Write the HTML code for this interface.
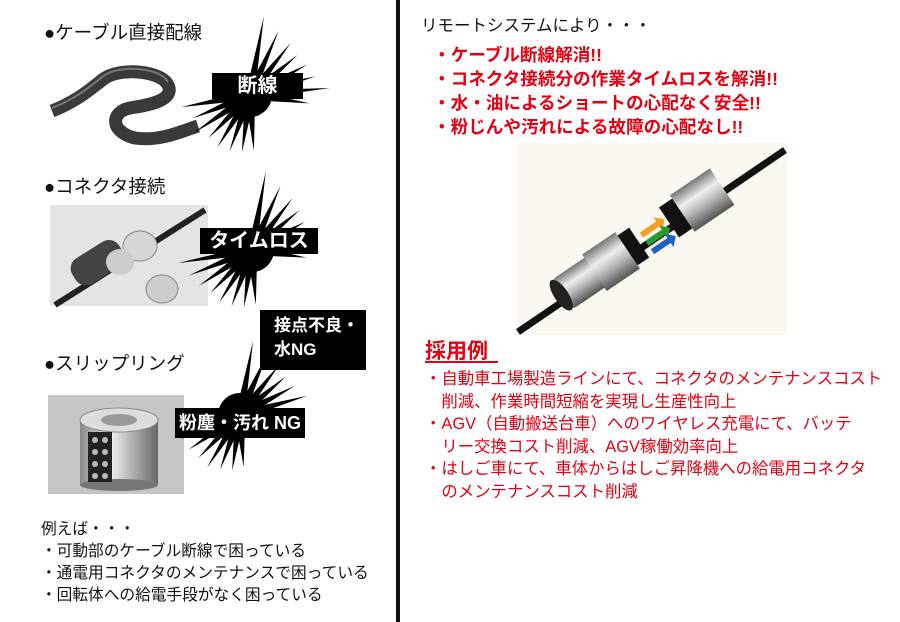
<!DOCTYPE html>
<html><head><meta charset="utf-8"><style>
body{margin:0;width:900px;height:622px;background:#fff;position:relative;overflow:hidden;font-family:"Liberation Sans","Noto Sans CJK JP",sans-serif}
.t{position:absolute;white-space:nowrap;line-height:1}
.h{font-size:18.5px;color:#111}
.lab{position:absolute;background:#000;color:#fff;font-weight:bold;white-space:nowrap;text-align:center}
.r{color:#e60012;font-weight:bold;font-size:17.6px}
.rl{color:#e60012;font-size:16.4px}
</style></head><body>
<svg width="900" height="622" style="position:absolute;left:0;top:0">
<defs>
<linearGradient id="met" x1="0" y1="0" x2="0" y2="1"><stop offset="0" stop-color="#777"/><stop offset="0.35" stop-color="#eee"/><stop offset="0.6" stop-color="#bbb"/><stop offset="1" stop-color="#555"/></linearGradient>
<linearGradient id="cyl" x1="0" y1="0" x2="1" y2="0"><stop offset="0" stop-color="#888"/><stop offset="0.4" stop-color="#eee"/><stop offset="0.7" stop-color="#aaa"/><stop offset="1" stop-color="#666"/></linearGradient>
</defs>
<rect x="396" y="0" width="4" height="622" fill="#111"/>
<path d="M52 111 C80 100 95 85 105 78 C120 68 160 70 168 85 C175 100 150 105 130 108 C110 112 110 132 135 138 C160 142 185 130 198 126" fill="none" stroke="#3a3a3a" stroke-width="13"/>
<path d="M52 108 C80 97 95 82 105 75 C120 65 160 67 168 82" fill="none" stroke="#777" stroke-width="2"/>
<rect x="50" y="205" width="158" height="101" fill="#e4e4e4"/>
<line x1="55" y1="305" x2="205" y2="210" stroke="#222" stroke-width="6"/>
<rect x="70" y="248" width="55" height="30" rx="12" fill="#444" transform="rotate(-32 97 263)"/>
<ellipse cx="140" cy="246" rx="17" ry="15" fill="#d6d6d6" stroke="#888"/>
<ellipse cx="162" cy="289" rx="16" ry="14" fill="#ccc" stroke="#888"/>
<ellipse cx="120" cy="262" rx="14" ry="13" fill="#ccc"/>
<rect x="48" y="395" width="136" height="99" fill="#c5c5c5"/>
<rect x="80" y="420" width="78" height="65" fill="url(#cyl)"/>
<ellipse cx="119" cy="485" rx="39" ry="6" fill="#777"/>
<ellipse cx="119" cy="420" rx="39" ry="12" fill="#ddd" stroke="#888"/>
<ellipse cx="119" cy="420" rx="18" ry="6" fill="#999"/>
<rect x="88" y="432" width="24" height="50" fill="#222"/>
<g fill="#bbb"><circle cx="95" cy="440" r="3"/><circle cx="105" cy="440" r="3"/><circle cx="95" cy="452" r="3"/><circle cx="105" cy="452" r="3"/><circle cx="95" cy="464" r="3"/><circle cx="105" cy="464" r="3"/><circle cx="95" cy="476" r="3"/><circle cx="105" cy="476" r="3"/></g>
<g id="bursts" fill="#000"></g>
<rect x="517" y="143" width="270" height="192" fill="#fbf8f2"/>
<line x1="518" y1="332" x2="785" y2="150" stroke="#111" stroke-width="7"/>
<g transform="translate(640 242) rotate(-34)">
<rect x="-95" y="-18" width="70" height="36" rx="6" fill="url(#met)"/>
<ellipse cx="-95" cy="0" rx="7" ry="18" fill="#222"/>
<rect x="-55" y="-22" width="40" height="44" fill="url(#met)"/>
<rect x="-15" y="-18" width="14" height="36" fill="#111"/>
<path d="M5 -8 l20 0 l0 -5 l8 8 l-8 8 l0 -5 l-20 0z" fill="#f5a020"/>
<path d="M5 2 l20 0 l0 -5 l8 8 l-8 8 l0 -5 l-20 0z" fill="#2a9a30"/>
<path d="M5 12 l20 0 l0 -5 l8 8 l-8 8 l0 -5 l-20 0z" fill="#2060c0"/>
<rect x="35" y="-18" width="16" height="36" fill="#111"/>
<rect x="51" y="-22" width="48" height="44" fill="url(#met)"/>
</g>
<line x1="425" y1="362" x2="498" y2="362" stroke="#e60012" stroke-width="2"/>
</svg>
<div class="t h" style="left:44px;top:24px">●ケーブル直接配線</div>
<div class="t h" style="left:44px;top:178px">●コネクタ接続</div>
<div class="t h" style="left:44px;top:355px">●スリップリング</div>
<div class="lab" style="left:212px;top:73px;width:91px;height:26px;font-size:20px;line-height:26px">断線</div>
<div class="lab" style="left:200px;top:228px;width:118px;height:26px;font-size:20px;line-height:26px">タイムロス</div>
<div class="lab" style="left:260px;top:310px;width:106px;height:60px;font-size:17px;line-height:24px;text-align:left;padding:4px 0 0 14px;box-sizing:border-box">接点不良・<br>水NG</div>
<div class="lab" style="left:175px;top:408px;width:130px;height:30px;font-size:18px;line-height:30px">粉塵・汚れ NG</div>
<div class="t" style="left:41px;top:519px;font-size:15.7px;color:#111;line-height:22px">例えば・・・<br>・可動部のケーブル断線で困っている<br>・通電用コネクタのメンテナンスで困っている<br>・回転体への給電手段がなく困っている</div>
<div class="t" style="left:421px;top:18px;font-size:16.5px;color:#111">リモートシステムにより・・・</div>
<div class="t r" style="left:433px;top:43px;line-height:24px">・ケーブル断線解消!!<br>・コネクタ接続分の作業タイムロスを解消!!<br>・水・油によるショートの心配なく安全!!<br>・粉じんや汚れによる故障の心配なし!!</div>
<div class="t" style="left:425px;top:341px;font-size:21px;font-weight:bold;color:#e60012">採用例</div>
<div class="t rl" style="left:425px;top:368px;line-height:22.5px">・自動車工場製造ラインにて、コネクタのメンテナンスコスト<br>　削減、作業時間短縮を実現し生産性向上<br>・AGV（自動搬送台車）へのワイヤレス充電にて、バッテ<br>　リー交換コスト削減、AGV稼働効率向上<br>・はしご車にて、車体からはしご昇降機への給電用コネクタ<br>　のメンテナンスコスト削減</div>
<script>
function burst(cx,cy,angles,lens){var s='<circle cx="'+cx+'" cy="'+cy+'" r="22"/>';for(var i=0;i<angles.length;i++){var a=angles[i]*Math.PI/180,L=lens[i%lens.length],r=18,d=0.2;
s+='<polygon points="'+(cx+r*Math.cos(a+d))+','+(cy+r*Math.sin(a+d))+' '+(cx+L*Math.cos(a))+','+(cy+L*Math.sin(a))+' '+(cx+r*Math.cos(a-d))+','+(cy+r*Math.sin(a-d))+'"/>';}
return s;}
var g=document.getElementById('bursts');
var A=[-80,-66,-52,-40,-28,-16,-5,8,170,158,146,134,122,110,98,86];
g.innerHTML=
burst(250,95,A,[80,70,66,62,65,68,80,60,70,62,68,60,62,60,58,56])+
burst(252,250,A,[80,70,66,62,60,62,68,55,75,68,64,60,62,60,58,55])+
burst(240,415,A,[75,68,64,60,62,70,66,55,68,64,62,60,62,58,56,52]);
</script>
</body></html>
